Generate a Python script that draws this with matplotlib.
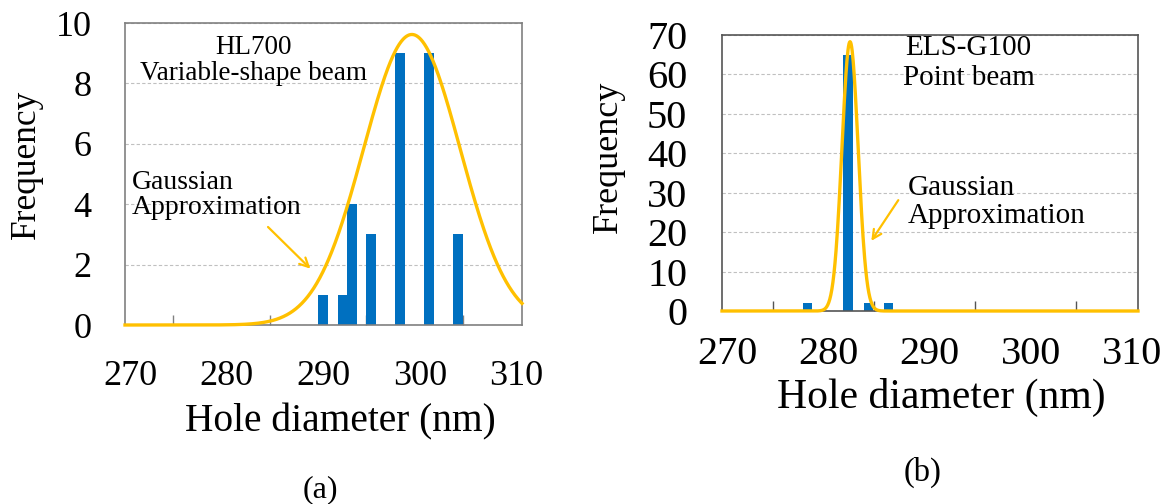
import numpy as np
import matplotlib
matplotlib.use("Agg")
import matplotlib.pyplot as plt
from matplotlib.transforms import ScaledTranslation

plt.rcParams["font.family"] = ["Liberation Serif", "DejaVu Serif"]

# Histogram data: left bin edges (nm) and counts
hl700_bins = [290, 292, 293, 295, 298, 301, 304]
hl700_counts = [1, 1, 4, 3, 9, 9, 3]
els_bins = [278, 282, 284, 286]
els_counts = [2, 65, 2, 2]

# Gaussian approximation parameters: amplitude, mean (nm), sigma (nm)
hl700_gauss = (9.62, 299.7, 5.0)
els_gauss = (68.3, 282.65, 0.8)

x_ticks = [270, 280, 290, 300, 310]
x_ticks_minor = [275, 280, 285, 290, 295, 300, 305, 310]
hl700_yticks = [0, 2, 4, 6, 8, 10]
els_yticks = [0, 10, 20, 30, 40, 50, 60, 70]

BLUE = "#0070C0"
GOLD = "#FFC000"
GRID = "#c0c0c0"

W, H = 1174, 504
fig = plt.figure(figsize=(W / 100, H / 100), dpi=100)


def px_axes(left, right, top, bottom):
    return fig.add_axes([left / W, 1 - bottom / H, (right - left) / W, (bottom - top) / H])


def gauss(x, params):
    a, mu, s = params
    return a * np.exp(-(x - mu) ** 2 / (2 * s ** 2))


def style(ax, yticks, ymax, tick_fs, xpad, ypad, frame,
          xlabel_fs, xlabel_pos, ylabel_fs, ylabel_pos):
    ax.set_xlim(270, 311.1)
    ax.set_ylim(0, ymax)
    ax.set_yticks(yticks)
    ax.set_xticks(x_ticks)
    ax.set_xticks(x_ticks_minor, minor=True)
    ax.tick_params(axis="x", which="major", length=0, pad=xpad, labelsize=tick_fs)
    ax.tick_params(axis="x", which="minor", direction="in", length=7, color=frame, width=1)
    ax.tick_params(axis="y", length=0, pad=ypad, labelsize=tick_fs)
    # category-style labels sit a little right of their grid positions
    shift = ScaledTranslation(5 / 100, 0, fig.dpi_scale_trans)
    for lbl in ax.get_xticklabels():
        lbl.set_transform(lbl.get_transform() + shift)
    ax.yaxis.grid(True, linestyle=(0, (3, 2)), color=GRID, linewidth=0.8)
    ax.set_axisbelow(True)
    for sp in ax.spines.values():
        sp.set_color(frame)
        sp.set_linewidth(1.2)
    ax.set_xlabel("Hole diameter (nm)", fontsize=xlabel_fs)
    ax.xaxis.label.set_va("center")
    ax.xaxis.set_label_coords(*xlabel_pos)
    ax.set_ylabel("Frequency", fontsize=ylabel_fs)
    ax.yaxis.label.set_va("center")
    ax.yaxis.set_label_coords(*ylabel_pos)


xs = np.linspace(270, 311.1, 800)

# (a) HL700 variable-shape beam
ax1 = px_axes(125, 522, 23, 325)
style(ax1, hl700_yticks, 10, 26, 25, 24, "#808080",
      28.4, (0.5416, -0.321), 25.5, (-0.247, 0.533))
ax1.bar(hl700_bins, hl700_counts, width=1.0, align="edge", color=BLUE, zorder=2)
ax1.plot(xs, gauss(xs, hl700_gauss), color=GOLD, lw=2.4, zorder=3, clip_on=False)
ax1.text(283.3, 8.99, "HL700", ha="center", va="baseline", fontsize=19.5)
ax1.text(283.3, 8.1, "Variable-shape beam", ha="center", va="baseline", fontsize=19.5)
ax1.text(270.7, 4.5, "Gaussian", ha="left", va="baseline", fontsize=20)
ax1.text(270.7, 3.67, "Approximation", ha="left", va="baseline", fontsize=20)
ax1.annotate("", xy=(289.4, 1.8), xytext=(284.6, 3.31),
             arrowprops=dict(arrowstyle="->", color=GOLD, lw=1.6, mutation_scale=16))
fig.text(320 / W, 1 - 490 / H, "(a)", ha="center", va="center", fontsize=23)

# (b) ELS-G100 point beam
ax2 = px_axes(722, 1138, 35, 311)
style(ax2, els_yticks, 70, 29, 18, 25, "#555555",
      30, (0.526, -0.314), 26, (-0.274, 0.558))
ax2.bar(els_bins, els_counts, width=0.92, align="edge", color=BLUE, zorder=2)
ax2.plot(xs, gauss(xs, els_gauss), color=GOLD, lw=2.4, zorder=3, clip_on=False)
ax2.text(288.07, 65.0, "ELS-G100", ha="left", va="baseline", fontsize=21)
ax2.text(287.87, 57.3, "Point beam", ha="left", va="baseline", fontsize=21)
ax2.text(288.36, 29.5, "Gaussian", ha="left", va="baseline", fontsize=21)
ax2.text(288.36, 22.3, "Approximation", ha="left", va="baseline", fontsize=21)
ax2.annotate("", xy=(284.6, 17.2), xytext=(287.57, 28.7),
             arrowprops=dict(arrowstyle="->", color=GOLD, lw=1.6, mutation_scale=16))
fig.text(923 / W, 1 - 472 / H, "(b)", ha="center", va="center", fontsize=23.5)

fig.savefig("out.png", dpi=100)
